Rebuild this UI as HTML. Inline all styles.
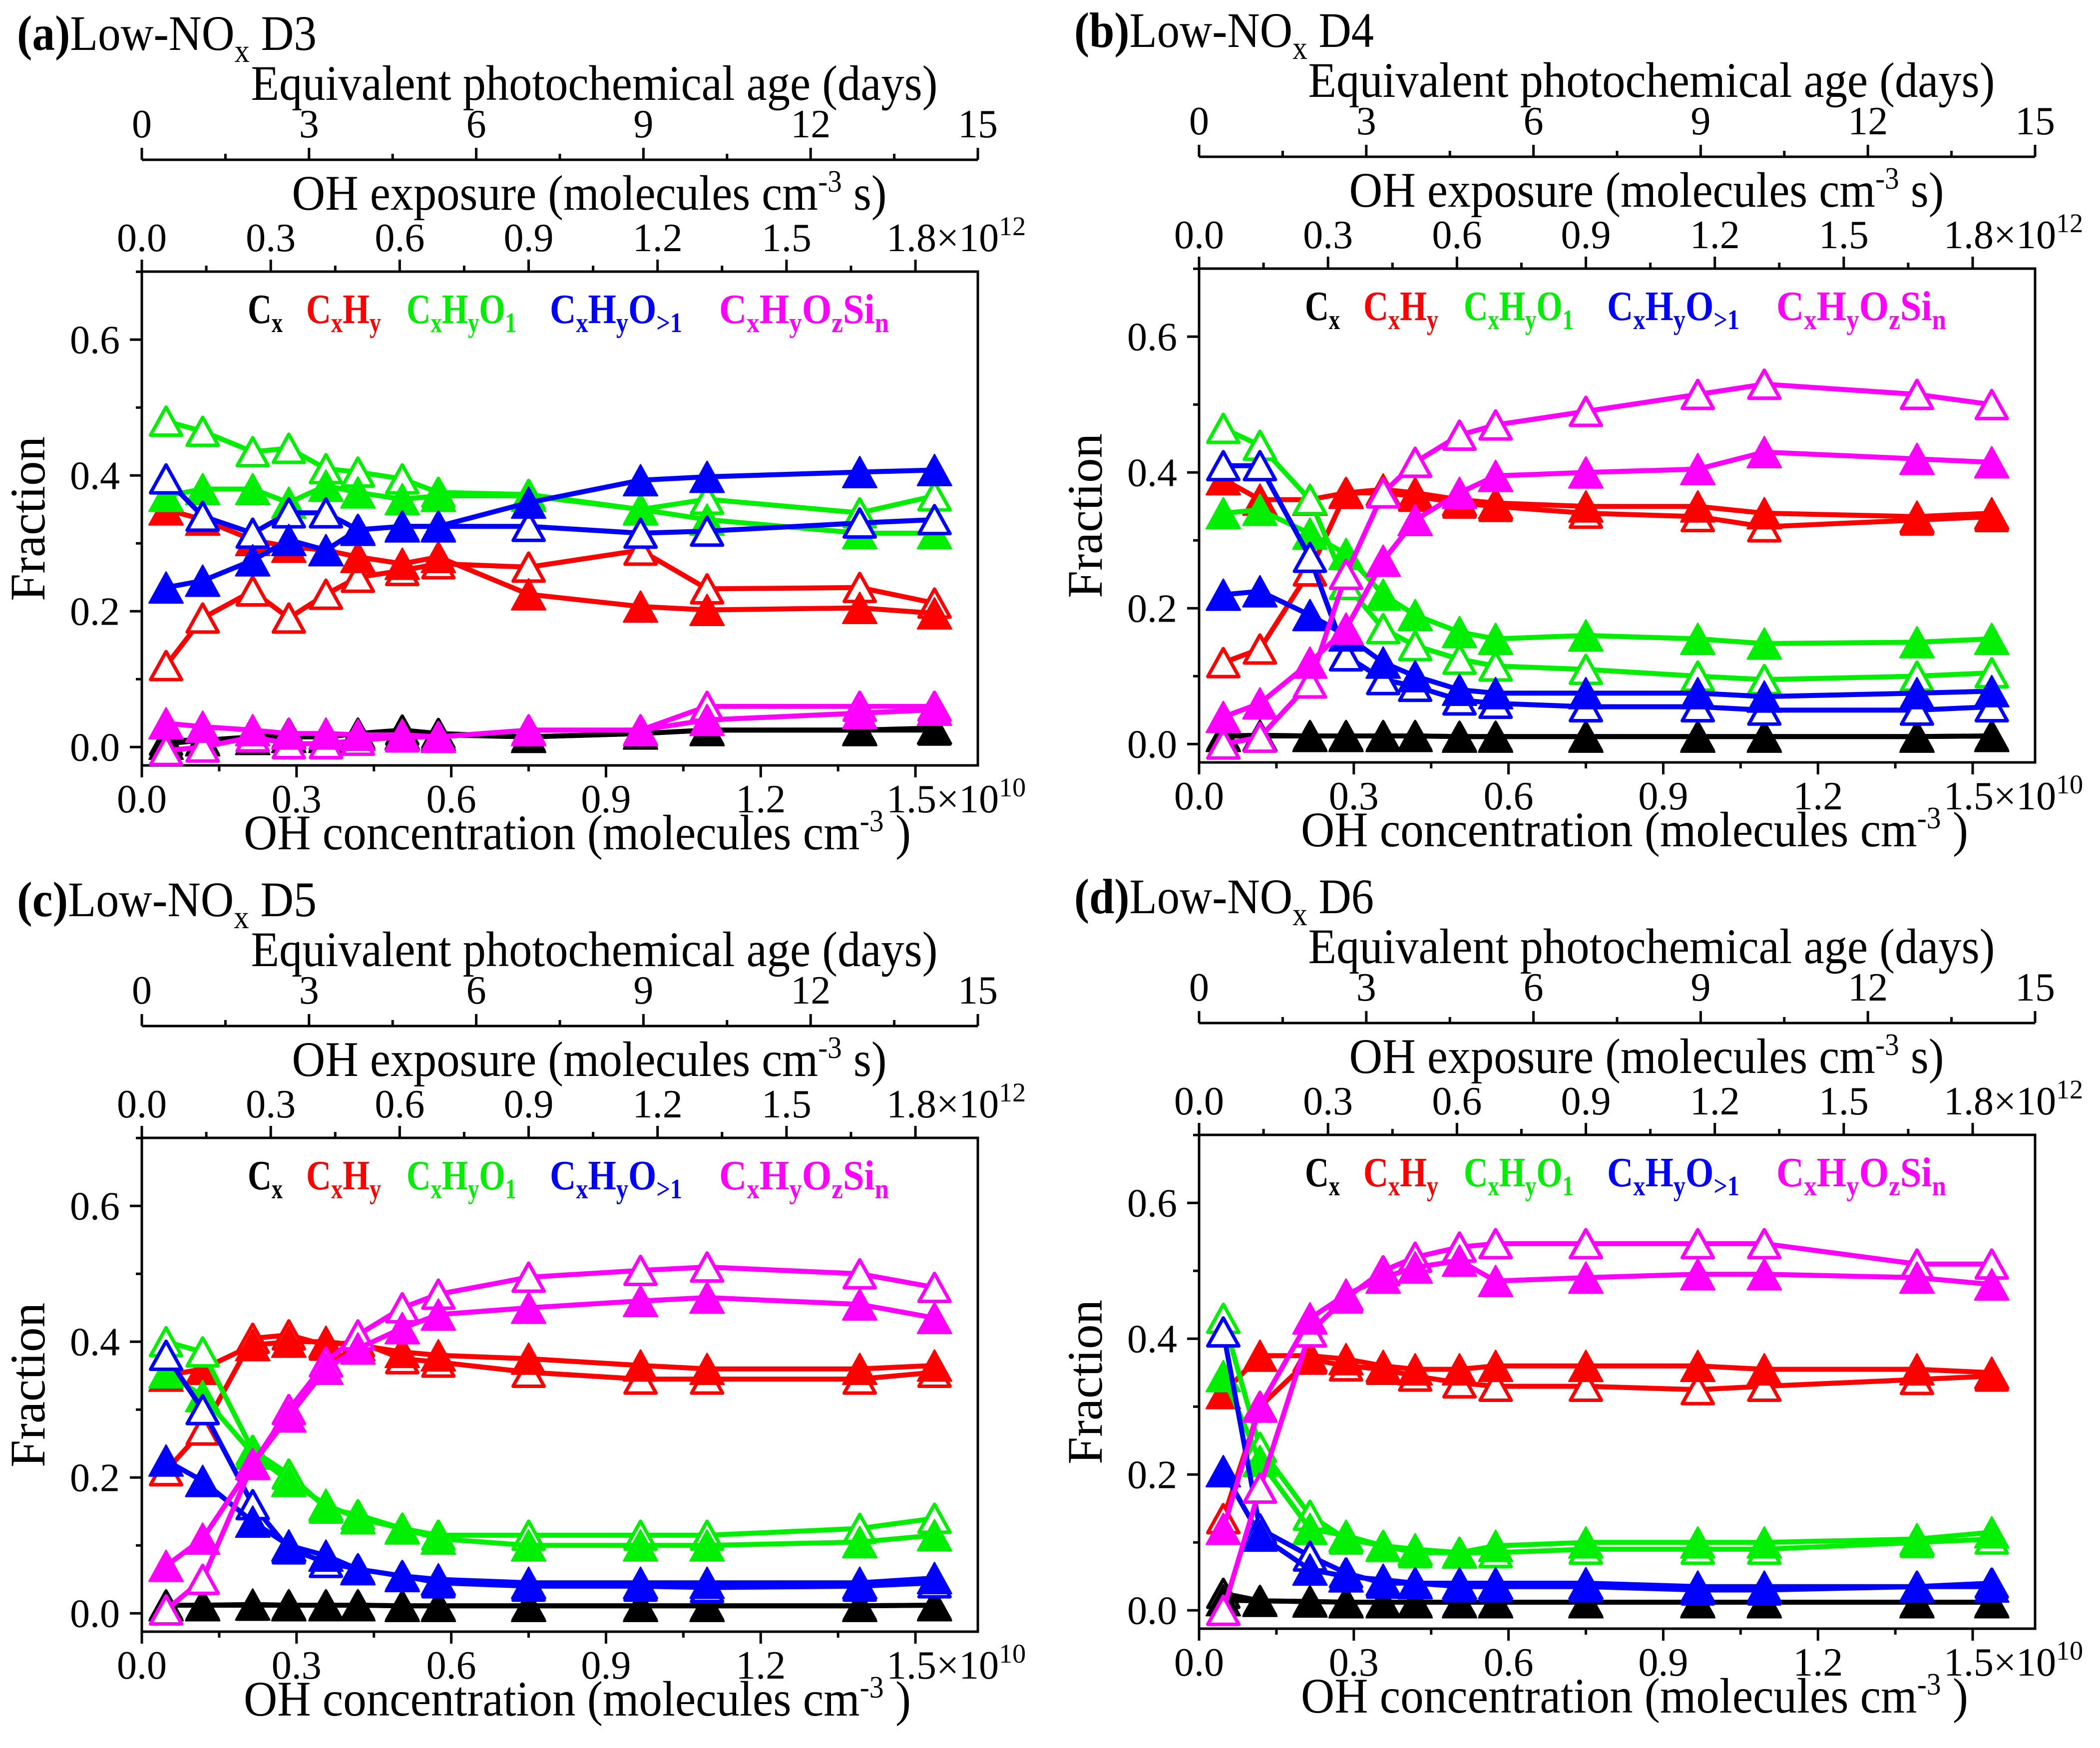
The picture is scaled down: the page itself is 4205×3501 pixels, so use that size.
<!DOCTYPE html>
<html><head><meta charset="utf-8"><title>Low-NOx fraction panels</title>
<style>html,body{margin:0;padding:0;background:#fff}svg{display:block}text{font-family:"Liberation Serif",serif}</style>
</head><body>
<svg id="fig" width="4205" height="3501" viewBox="0 0 4205 3501" xmlns="http://www.w3.org/2000/svg"></svg>
<script>
const xConc = [0.047,0.118,0.215,0.285,0.357,0.419,0.505,0.575,0.75,0.967,1.096,1.392,1.537];
const panelLabels = ['(a)','(b)','(c)','(d)'];
const panelNames = ['D3','D4','D5','D6'];
const yTicks = [0.0,0.2,0.4,0.6];
const xTicks = [0.0,0.3,0.6,0.9,1.2,1.5];
const expTicks = [0.0,0.3,0.6,0.9,1.2,1.5,1.8];
const dayTicks = [0,3,6,9,12,15];
// panel a
const aBlackF=[0.005,0.01,0.012,0.015,0.015,0.02,0.02,0.018,0.015,0.02,0.025,0.025,0.028];
const aBlackO=[0.01,0.01,0.015,0.02,0.015,0.02,0.025,0.02,0.015,0.02,0.025,0.025,0.025];
const aRedF=[0.35,0.335,0.305,0.295,0.29,0.28,0.27,0.28,0.225,0.207,0.202,0.205,0.197];
const aRedO=[0.12,0.19,0.23,0.19,0.225,0.25,0.26,0.27,0.265,0.29,0.233,0.235,0.212];
const aGreenF=[0.37,0.38,0.38,0.36,0.385,0.375,0.365,0.37,0.37,0.35,0.335,0.315,0.315];
const aGreenO=[0.48,0.465,0.435,0.44,0.41,0.405,0.395,0.375,0.372,0.35,0.365,0.345,0.37];
const aBlueF=[0.235,0.245,0.275,0.305,0.29,0.32,0.325,0.325,0.36,0.393,0.398,0.405,0.408];
const aBlueO=[0.395,0.34,0.315,0.345,0.345,0.32,0.325,0.325,0.325,0.315,0.318,0.33,0.335];
const aMagF=[0.035,0.03,0.025,0.02,0.02,0.018,0.018,0.015,0.025,0.025,0.04,0.05,0.055];
const aMagO=[-0.005,0.0,0.015,0.005,0.005,0.01,0.015,0.015,0.025,0.025,0.06,0.06,0.06];
// panel b
const bBlackF=[0.012,0.013,0.012,0.012,0.012,0.012,0.011,0.011,0.011,0.011,0.011,0.011,0.012];
const bBlackO=[0.012,0.012,0.012,0.012,0.012,0.012,0.011,0.011,0.011,0.011,0.011,0.011,0.012];
const bRedF=[0.39,0.36,0.36,0.37,0.375,0.37,0.36,0.355,0.35,0.35,0.34,0.335,0.34];
const bRedO=[0.12,0.14,0.255,0.37,0.37,0.365,0.355,0.35,0.34,0.335,0.32,0.33,0.335];
const bGreenF=[0.34,0.345,0.31,0.28,0.22,0.19,0.165,0.155,0.16,0.155,0.148,0.15,0.155];
const bGreenO=[0.465,0.44,0.36,0.235,0.17,0.145,0.125,0.115,0.11,0.1,0.095,0.1,0.105];
const bBlueF=[0.22,0.225,0.19,0.16,0.12,0.1,0.08,0.075,0.075,0.075,0.07,0.075,0.078];
const bBlueO=[0.41,0.41,0.275,0.13,0.095,0.085,0.065,0.06,0.055,0.055,0.05,0.05,0.055];
const bMagF=[0.04,0.06,0.12,0.17,0.27,0.33,0.37,0.395,0.4,0.405,0.43,0.42,0.415];
const bMagO=[0.0,0.01,0.09,0.25,0.37,0.415,0.455,0.47,0.49,0.515,0.53,0.515,0.5];
// panel c
const cBlackF=[0.012,0.012,0.013,0.012,0.012,0.012,0.011,0.011,0.011,0.011,0.011,0.011,0.012];
const cBlackO=[0.012,0.012,0.012,0.012,0.012,0.012,0.011,0.011,0.011,0.011,0.011,0.011,0.012];
const cRedF=[0.35,0.36,0.395,0.4,0.4,0.395,0.385,0.38,0.375,0.365,0.36,0.36,0.365];
const cRedO=[0.21,0.27,0.405,0.41,0.395,0.4,0.375,0.37,0.355,0.345,0.345,0.345,0.355];
const cGreenF=[0.355,0.32,0.235,0.195,0.16,0.14,0.125,0.11,0.1,0.1,0.1,0.105,0.115];
const cGreenO=[0.4,0.385,0.24,0.205,0.155,0.145,0.125,0.115,0.115,0.115,0.115,0.125,0.14];
const cBlueF=[0.225,0.195,0.135,0.1,0.085,0.065,0.055,0.05,0.045,0.045,0.045,0.045,0.052];
const cBlueO=[0.38,0.3,0.16,0.095,0.075,0.065,0.055,0.045,0.04,0.04,0.038,0.04,0.045];
const cMagF=[0.07,0.11,0.22,0.29,0.36,0.39,0.42,0.44,0.45,0.46,0.465,0.455,0.435];
const cMagO=[0.005,0.05,0.22,0.3,0.37,0.41,0.45,0.47,0.495,0.505,0.51,0.5,0.48];
// panel d
const dBlackF=[0.015,0.014,0.013,0.012,0.012,0.012,0.012,0.012,0.012,0.012,0.012,0.012,0.012];
const dBlackO=[0.025,0.014,0.013,0.012,0.012,0.012,0.012,0.012,0.012,0.012,0.012,0.012,0.012];
const dRedF=[0.32,0.375,0.375,0.37,0.36,0.355,0.355,0.36,0.36,0.36,0.355,0.355,0.35];
const dRedO=[0.135,0.3,0.37,0.36,0.355,0.345,0.335,0.33,0.33,0.325,0.33,0.34,0.345];
const dGreenF=[0.345,0.22,0.12,0.11,0.095,0.09,0.085,0.095,0.1,0.1,0.1,0.105,0.115];
const dGreenO=[0.43,0.24,0.14,0.105,0.095,0.085,0.085,0.085,0.09,0.09,0.09,0.1,0.105];
const dBlueF=[0.205,0.11,0.06,0.05,0.045,0.04,0.04,0.04,0.04,0.035,0.035,0.035,0.035];
const dBlueO=[0.41,0.12,0.08,0.055,0.04,0.04,0.035,0.035,0.035,0.03,0.03,0.035,0.04];
const dMagF=[0.12,0.3,0.43,0.465,0.49,0.505,0.515,0.485,0.49,0.495,0.495,0.49,0.48];
const dMagO=[0.0,0.18,0.41,0.46,0.5,0.52,0.535,0.54,0.54,0.54,0.54,0.51,0.51];

const NS='http://www.w3.org/2000/svg';
const svg=document.getElementById('fig');
function mk(tag,attrs,parent){const e=document.createElementNS(NS,tag);for(const k in attrs)e.setAttribute(k,attrs[k]);(parent||svg).appendChild(e);return e;}

const W=1674, H=989, PXX=1032.7, PXY=1360, YMIN=-0.027;
const panels=[
 {x:284,y:544,s:[aBlackF,aBlackO,aRedF,aRedO,aGreenF,aGreenO,aBlueF,aBlueO,aMagF,aMagO]},
 {x:2401,y:538,s:[bBlackF,bBlackO,bRedF,bRedO,bGreenF,bGreenO,bBlueF,bBlueO,bMagF,bMagO]},
 {x:284,y:2279,s:[cBlackF,cBlackO,cRedF,cRedO,cGreenF,cGreenO,cBlueF,cBlueO,cMagF,cMagO]},
 {x:2401,y:2273,s:[dBlackF,dBlackO,dRedF,dRedO,dGreenF,dGreenO,dBlueF,dBlueO,dMagF,dMagO]}
];
const colors=['#000000','#000000','#ff0000','#ff0000','#00ee00','#00ee00','#0000ff','#0000ff','#ff00ff','#ff00ff'];
const seriesNames=['cx-filled','cx-open','cxhy-filled','cxhy-open','cxhyo1-filled','cxhyo1-open','cxhyo-gt1-filled','cxhyo-gt1-open','cxhyozsin-filled','cxhyozsin-open'];
const drawOrder=[1,0,3,2,5,4,7,6,9,8];

panels.forEach((P,pi)=>{
  const g=mk('g',{});
  
  
  const X=v=>P.x+v*PXX;
  const Y=v=>P.y+H-(v-YMIN)*PXY;
  // title
  const t=mk('text',{x:P.x-250,y:P.y-444,'font-size':100,textLength:600,lengthAdjust:'spacingAndGlyphs'},g);
  
  
  const b=mk('tspan',{'font-weight':'bold'},t);b.textContent=panelLabels[pi];
  const l1=mk('tspan',{},t);l1.textContent='Low-NO';
  const l2=mk('tspan',{'font-size':66,dy:24},t);l2.textContent='x';
  const l3=mk('tspan',{dy:-24},t);l3.textContent=' '+panelNames[pi];
  // days axis
  const dy=P.y-224;
  const da=mk('line',{x1:P.x,x2:P.x+W,y1:dy,y2:dy,stroke:'#000','stroke-width':5},g);
  
  
  for(let d=0;d<=15.01;d+=1.5){const xx=P.x+d/15*W;const major=Math.abs(d/3-Math.round(d/3))<0.01;mk('line',{x1:xx,x2:xx,y1:dy,y2:dy-(major?24:12),stroke:'#000','stroke-width':5},g);}
  dayTicks.forEach(d=>{const tt=mk('text',{x:P.x+d/15*W,y:P.y-269,'font-size':80,'text-anchor':'middle'},g);tt.textContent=d;
    
    });
  const at=mk('text',{x:P.x+906,y:P.y-344,'font-size':100,'text-anchor':'middle',textLength:1375,lengthAdjust:'spacingAndGlyphs'},g);
  at.textContent='Equivalent photochemical age (days)';
  
  
  // exposure axis on top of frame
  for(let e=0;e<=1.95;e+=0.15){const xx=X(e/1.2);if(xx>P.x+W+1)break;const major=Math.abs(e/0.3-Math.round(e/0.3))<0.01;mk('line',{x1:xx,x2:xx,y1:P.y,y2:P.y-(major?24:12),stroke:'#000','stroke-width':5},g);}
  expTicks.forEach((e,i)=>{const tt=mk('text',{x:X(e/1.2),y:P.y-41,'font-size':80,'text-anchor':'middle'},g);
    
    
    if(i===expTicks.length-1){tt.setAttribute('text-anchor','start');tt.setAttribute('x',X(e/1.2)-58);tt.textContent=e.toFixed(1)+'\u00d710';const s=mk('tspan',{'font-size':54,dy:-32},tt);s.textContent='12';}
    else tt.textContent=e.toFixed(1);});
  const et=mk('text',{x:P.x+896,y:P.y-124,'font-size':100,'text-anchor':'middle',textLength:1191,lengthAdjust:'spacingAndGlyphs'},g);
  
  
  const e1=mk('tspan',{},et);e1.textContent='OH exposure (molecules cm';
  const e2=mk('tspan',{'font-size':62,dy:-36},et);e2.textContent='-3';
  const e3=mk('tspan',{dy:36},et);e3.textContent=' s)';
  // frame
  const fr=mk('rect',{x:P.x,y:P.y,width:W,height:H,fill:'none',stroke:'#000','stroke-width':5},g);
  
  
  // y ticks
  for(let v=0;v<=0.701;v+=0.1){const yy=Y(v);const major=Math.round(v*10)%2===0;mk('line',{x1:P.x,x2:P.x-(major?24:12),y1:yy,y2:yy,stroke:'#000','stroke-width':5},g);}
  yTicks.forEach(v=>{const tt=mk('text',{x:P.x-44,y:Y(v)+27,'font-size':80,'text-anchor':'end'},g);tt.textContent=v.toFixed(1);
    
    });
  const yt=mk('text',{x:0,y:0,'font-size':100,'text-anchor':'middle',textLength:330,lengthAdjust:'spacingAndGlyphs',transform:`translate(${P.x-195},${P.y+495}) rotate(-90)`},g);
  yt.textContent='Fraction';
  
  
  // x ticks
  for(let v=0;v<=1.61;v+=0.15){const xx=X(v);const major=Math.abs(v/0.3-Math.round(v/0.3))<0.01;mk('line',{x1:xx,x2:xx,y1:P.y+H,y2:P.y+H+(major?24:12),stroke:'#000','stroke-width':5},g);}
  xTicks.forEach((v,i)=>{const tt=mk('text',{x:X(v),y:P.y+H+94,'font-size':80,'text-anchor':'middle'},g);
    
    
    if(i===xTicks.length-1){tt.setAttribute('text-anchor','start');tt.setAttribute('x',X(v)-58);tt.textContent=v.toFixed(1)+'\u00d710';const s=mk('tspan',{'font-size':54,dy:-32},tt);s.textContent='10';}
    else tt.textContent=v.toFixed(1);});
  const xt=mk('text',{x:P.x+872,y:P.y+H+168,'font-size':100,'text-anchor':'middle',textLength:1336,lengthAdjust:'spacingAndGlyphs'},g);
  
  
  const x1=mk('tspan',{},xt);x1.textContent='OH concentration (molecules cm';
  const x2=mk('tspan',{'font-size':62,dy:-36},xt);x2.textContent='-3';
  const x3=mk('tspan',{dy:36},xt);x3.textContent=' )';
  // legend
  const legX=[212,329,530,817,1156];
  const legW=[70,150,220,265,340];
  const legC=['#000','#ff0000','#00ee00','#0000ff','#ff00ff'];
  const legParts=[[['C',0],['x',1]],[['C',0],['x',1],['H',0],['y',1]],[['C',0],['x',1],['H',0],['y',1],['O',0],['1',1]],[['C',0],['x',1],['H',0],['y',1],['O',0],['>1',1]],[['C',0],['x',1],['H',0],['y',1],['O',0],['z',1],['Si',0],['n',1]]];
  legParts.forEach((parts,li)=>{
    const lt=mk('text',{x:P.x+legX[li],y:P.y+103,'font-size':84,'font-weight':'bold',fill:legC[li],textLength:legW[li],lengthAdjust:'spacingAndGlyphs'},g);
    
    
    parts.forEach(p=>{const ts=mk('tspan',{},lt);if(p[1]){ts.setAttribute('font-size',56);ts.setAttribute('dy',18);}else if(ts.previousSibling&&ts.previousSibling.getAttribute('font-size')){ts.setAttribute('dy',-18);}ts.textContent=p[0];});
  });
  // series
  drawOrder.forEach(si=>{
    const vals=P.s[si];const col=colors[si];const open=si%2===1;
    const sg=mk('g',{},g);
    
    
    const pts=vals.map((v,i)=>X(xConc[i]).toFixed(1)+','+Y(v).toFixed(1)).join(' ');
    const pl=mk('polyline',{points:pts,fill:'none',stroke:col,'stroke-width':10,'stroke-linejoin':'round'},sg);
    
    
    vals.forEach((v,i)=>{const cx=X(xConc[i]),cy=Y(v);const w=open?31:34,h=open?28:31;
      const m=mk('polygon',{points:`${cx},${cy-h} ${cx-w},${cy+h} ${cx+w},${cy+h}`,fill:open?'#fff':col,stroke:col,'stroke-width':open?7:3,'stroke-linejoin':'round'},sg);
      
      });
  });
});
</script>
</body></html>
